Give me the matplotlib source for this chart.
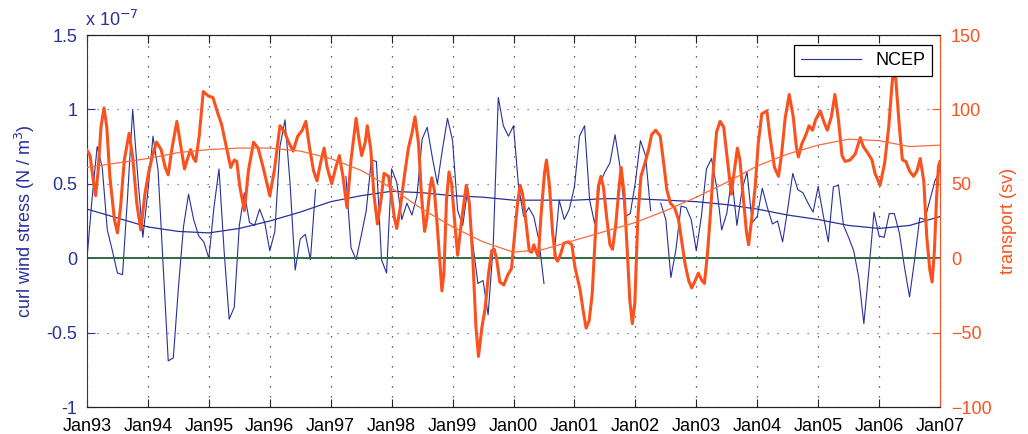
import numpy as np
import matplotlib
matplotlib.use("Agg")
import matplotlib.pyplot as plt
from matplotlib.lines import Line2D

plt.rcParams['font.family'] = ['Liberation Sans', 'DejaVu Sans']

# ---------------- data ----------------
year_labels = ['Jan93', 'Jan94', 'Jan95', 'Jan96', 'Jan97', 'Jan98', 'Jan99',
               'Jan00', 'Jan01', 'Jan02', 'Jan03', 'Jan04', 'Jan05', 'Jan06', 'Jan07']

# monthly NCEP curl wind stress (x1e-7 N/m^3), months since Jan93
ncep_curl = [
    0.00, 0.40, 0.75, 0.61, 0.19, 0.05, -0.10, -0.11, 0.42, 1.00, 0.55, 0.14,
    0.45, 0.82, 0.59, -0.05, -0.69, -0.67, -0.20, 0.21, 0.43, 0.26, 0.15, 0.11,
    0.00, 0.34, 0.60, 0.05, -0.41, -0.33, 0.22, 0.44, 0.24, 0.22, 0.33, 0.24,
    0.05, 0.18, 0.75, 0.93, 0.50, -0.08, 0.13, 0.16, -0.01, 0.46, np.nan, np.nan,
    np.nan, np.nan, np.nan, 0.55, 0.07, -0.01, 0.15, 0.32, 0.66, 0.65, -0.01, -0.10,
    0.60, 0.51, 0.26, 0.37, 0.29, 0.42, 0.80, 0.88, 0.68, 0.50, 0.73, 0.94,
    0.79, 0.32, 0.22, 0.47, 0.09, -0.17, -0.15, -0.38, 0.08, 1.08, 0.89, 0.82,
    0.89, 0.48, 0.28, 0.34, 0.28, 0.12, -0.17, np.nan, 0.02, 0.39, 0.26, 0.33,
    0.48, 0.82, 0.89, 0.39, 0.23, 0.50, 0.58, 0.64, 0.83, 0.61, 0.28, 0.30,
    0.51, 0.79, 0.69, 0.32, np.nan, 0.37, 0.26, -0.13, 0.06, 0.35, 0.34, 0.26,
    0.05, 0.28, 0.60, 0.67, 0.48, 0.19, 0.30, 0.54, 0.22, 0.46, 0.58, 0.24,
    0.28, 0.47, 0.34, 0.23, 0.25, 0.11, 0.33, 0.57, 0.46, 0.44, 0.37, 0.31,
    0.48, 0.29, 0.11, 0.48, 0.49, 0.22, 0.14, 0.05, -0.13, -0.44, -0.08, 0.31,
    0.15, 0.14, 0.30, 0.30, 0.17, -0.06, -0.26, -0.01, 0.27, 0.26, 0.39, 0.52,
    0.59]
ncep_month = np.arange(len(ncep_curl))

# transport (Sv), read at irregular times (months since Jan93)
transport_month = [
    0, 0.6, 1.25, 1.7, 2.2, 2.75, 3.35, 3.9, 4.5, 5.4, 6.0, 6.6, 7.35, 8.3, 9.0, 9.8,
    10.6, 11.4, 12.1, 12.9, 13.7, 14.6, 15.4, 16.0, 16.7, 17.7, 18.3, 19.2, 20.0, 20.4,
    21.0, 21.4, 22.1, 22.9, 23.9, 24.8, 25.7, 26.5, 27.3, 28.3, 29.0, 29.5, 30.1, 31.0,
    31.8, 32.8, 33.7, 34.7, 36.0, 36.9, 38.0, 38.9, 39.7, 40.6, 41.5, 42.4, 43.1, 43.8,
    44.6, 45.3, 46.0, 46.7, 47.3, 48.2, 49.0, 49.7, 50.4, 51.2, 52.0, 53.0, 53.6, 54.1,
    54.8, 55.2, 55.9, 56.5, 57.2, 57.9, 58.5, 59.4, 60.0, 60.5, 61.0, 61.7, 62.5, 63.3,
    64.0, 64.6, 65.3, 65.9, 66.5, 66.9, 67.6, 67.9, 68.4, 69.0, 69.9, 70.3, 70.8, 71.3,
    71.8, 72.5, 73.0, 73.8, 74.7, 75.3, 76.0, 76.6, 77.1, 77.8, 78.4, 79.1, 79.7, 80.2,
    80.7, 81.3, 82.1, 82.9, 83.6, 84.3, 84.8, 85.3, 85.8, 86.4, 87.1, 87.6, 88.0, 88.4,
    88.9, 89.4, 90.1, 90.5, 91.1, 91.7, 92.3, 92.7, 93.3, 93.9, 94.8, 95.5, 96.1, 97.1,
    97.8, 98.3, 98.9, 99.5, 100.2, 100.7, 101.2, 101.7, 102.4, 103.0, 103.5, 104.1,
    104.8, 105.2, 105.8, 106.5, 106.9, 107.4, 107.9, 108.5, 109.1, 109.9, 110.6, 111.2,
    112.0, 112.9, 113.5, 114.2, 114.9, 115.7, 116.5, 117.1, 117.8, 118.5, 119.1, 119.8,
    120.4, 121.1, 121.6, 122.2, 122.7, 123.4, 124.0, 124.7, 125.4, 126.0, 126.5, 126.9,
    127.5, 128.1, 128.6, 129.3, 129.9, 130.3, 130.9, 131.6, 132.2, 132.9, 133.9, 134.5,
    135.4, 136.2, 136.8, 137.5, 138.3, 139.1, 139.7, 140.1, 140.8, 141.6, 142.2, 142.9,
    143.5, 144.4, 145.2, 145.8, 146.6, 147.3, 148.0, 148.7, 149.3, 150.3, 151.3, 152.3,
    152.9, 153.9, 154.6, 155.2, 156.2, 157.1, 157.9, 158.5, 159.0, 159.3, 160.0, 160.6,
    161.3, 161.6, 162.1, 162.8, 163.5, 164.1, 164.8, 165.4, 166.0, 166.45, 166.9, 167.3,
    167.7, 168.0]
transport_sv = [
    72.6, 69, 52, 42, 59, 88, 101, 88, 55, 26, 17, 34, 66, 84, 68, 37,
    19, 43, 57, 69, 78, 73, 61, 56, 73, 92, 79, 60, 69, 73,
    67, 65, 82, 112, 109, 108, 98, 90, 77, 61, 66, 65, 48, 32,
    59, 78, 74, 61, 42, 59, 89, 85, 78, 72, 82, 86, 92, 75,
    59, 52, 64, 74, 61, 50, 61, 69, 55, 34, 66, 94, 79, 69,
    78, 89, 73, 43, 23, 39, 57, 55, 41, 28, 20, 34, 55, 74,
    84, 95, 77, 41, 18, 26, 48, 54, 46, 21, -22, -10, 39, 58,
    50, 21, 2, 26, 49, 37, -1, -46, -66, -46, -34, -10, 5, 6,
    -1, -16, -18, -11, -7, 19, 37, 49, 43, 26, 5, 4, 9, 5,
    1, 28, 57, 66, 48, 17, 0, -2, 3, 10, 11, 9, -6, -21,
    -37, -47, -42, -24, 21, 48, 55, 48, 26, 9, 6, 21,
    48, 61, 43, -1, -28, -44, -30, 28, 55, 64, 73, 83,
    86, 82, 66, 46, 37, 34, 26, 12, -4, -15, -20, -15,
    -10, -15, -17, 3, 26, 61, 85, 92, 88, 70, 55, 43,
    59, 74, 66, 39, 17, 9, 26, 48, 77, 97, 99, 82,
    61, 55, 70, 94, 110, 95, 75, 68, 77, 83, 89, 86,
    93, 99, 91, 86, 95, 110, 93, 69, 65, 66, 70, 81,
    75, 70, 66, 57, 49, 64, 88, 115, 132, 120, 88, 66,
    65, 62, 58, 55, 59, 67, 52, 14, -8, -16, 5, 39,
    62, 65]

# smooth long-term curves, read every half year
trend_month = [0, 6, 12, 18, 24, 30, 36, 42, 48, 54, 60, 66, 72, 78, 84, 90, 96,
               102, 108, 114, 120, 126, 132, 138, 144, 150, 156, 162, 168]
curl_trend = [0.33, 0.27, 0.21, 0.18, 0.17, 0.20, 0.25, 0.31, 0.38, 0.42, 0.45,
              0.44, 0.42, 0.41, 0.39, 0.39, 0.39, 0.40, 0.40, 0.39, 0.38, 0.36,
              0.33, 0.29, 0.26, 0.22, 0.20, 0.22, 0.28]
transport_trend = [61, 64, 67, 71, 73, 74, 74, 72, 67, 59, 47, 33, 21, 11, 4, 6,
                   12, 18, 24, 32, 41, 51, 62, 70, 76, 80, 79, 75, 76]

left_ticks = [-1, -0.5, 0, 0.5, 1, 1.5]
left_ticklabels = ['-1', '-0.5', '0', '0.5', '1', '1.5']
right_ticks = [-100, -50, 0, 50, 100, 150]

# ---------------- style ----------------
BLUE = '#26309a'
ORANGE = '#f9521f'
ORANGE_T = '#fb6a3c'
GREEN = '#2f6a48'
FS = 13

fig = plt.figure(figsize=(10.28, 4.34), dpi=100)
ax1 = fig.add_axes([87/1028, 1-407/434, (940-87)/1028, (407-35)/434])
ax2 = ax1.twinx()

# left axis content
ax1.plot(ncep_month, ncep_curl, color=BLUE, lw=0.8, label='NCEP')
ax1.plot(trend_month, curl_trend, color=BLUE, lw=0.9)
ax1.axhline(0, color=GREEN, lw=1.4)
ax1.set_xlim(0, 168)
ax1.set_ylim(-1, 1.5)
ax1.set_yticks(left_ticks)
ax1.set_yticklabels(left_ticklabels)
ax1.set_xticks(np.arange(0, 169, 12))
ax1.set_xticklabels(year_labels)
ax1.tick_params(axis='y', colors=BLUE, direction='in', length=6, labelsize=FS,
                left=True, right=False, pad=7)
ax1.tick_params(axis='x', colors='#222222', labelcolor='black', direction='in',
                length=6, labelsize=FS, top=True, bottom=True, pad=8)
ax1.xaxis.grid(True, color='#333333', linestyle=(0, (1, 7)), lw=0.9)
ax1.yaxis.grid(True, color='#5a60c0', linestyle=(0, (1, 7)), lw=0.9)
ax1.spines['left'].set_color(BLUE)
ax1.spines['right'].set_visible(False)
ax1.spines['top'].set_color('#222222')
ax1.spines['bottom'].set_color('#222222')
ax1.set_ylabel('curl wind stress (N / m$^{3}$)', color=BLUE, fontsize=FS, labelpad=7)

# right axis content
ax2.plot(transport_month, transport_sv, color=ORANGE, lw=2.2, solid_joinstyle='round')
ax2.plot(trend_month, transport_trend, color=ORANGE_T, lw=0.9)
ax2.set_ylim(-100, 150)
ax2.set_yticks(right_ticks)
ax2.tick_params(axis='y', colors=ORANGE, direction='in', length=6, labelsize=FS, pad=8)
ax2.spines['right'].set_color(ORANGE)
ax2.spines['left'].set_visible(False)
ax2.spines['top'].set_color('#222222')
ax2.spines['bottom'].set_color('#222222')
ax2.set_ylabel('transport (sv)', color=ORANGE, fontsize=FS, labelpad=6)

fig.text(85/1028, 1-20/434, 'x 10$^{-7}$', color=BLUE, fontsize=FS, va='center', ha='left')

handle = Line2D([], [], color=BLUE, lw=0.8)
leg = ax2.legend([handle], ['NCEP'], loc='upper right', bbox_to_anchor=(0.991, 0.973),
                 borderaxespad=0, fancybox=False, framealpha=1, edgecolor='black',
                 fontsize=FS, handlelength=3.3)
leg.get_frame().set_linewidth(0.9)

fig.savefig('out.png', dpi=100)
